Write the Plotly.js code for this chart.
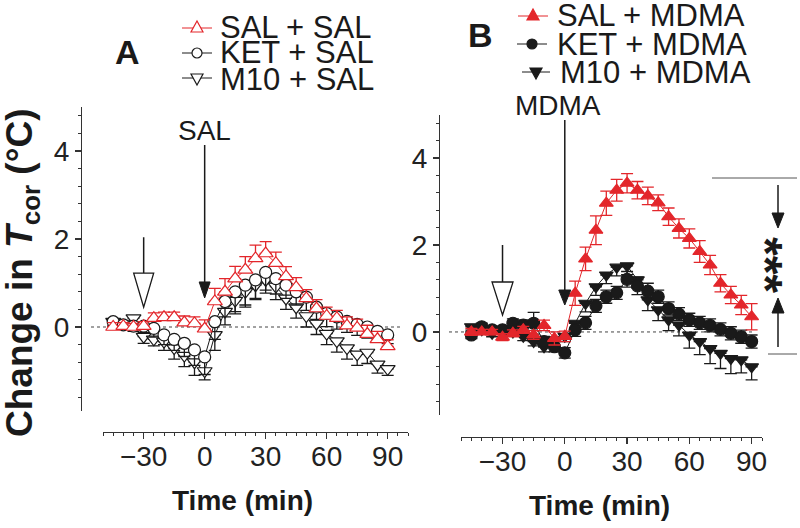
<!DOCTYPE html>
<html>
<head>
<meta charset="utf-8">
<script src="https://cdn.plot.ly/plotly-3.0.1.min.js"></script>
<style>
  html, body { margin: 0; padding: 0; background: #fff; }
  #chart { width: 800px; height: 528px; }
</style>
</head>
<body>
<div id="chart"></div>
<script>
// time points (min), same for both panels
var time = [-45, -40, -35, -30, -25, -20, -15, -10, -5, 0, 5, 10, 15, 20, 25, 30, 35, 40, 45, 50, 55, 60, 65, 70, 75, 80, 85, 90];

// panel A : pretreatment + SAL
var salSal    = [0.0, 0.02, 0.0, 0.02, 0.2, 0.22, 0.22, 0.1, 0.08, -0.04, 0.58, 0.8, 1.1, 1.3, 1.56, 1.67, 1.45, 1.15, 0.9, 0.65, 0.42, 0.25, 0.2, 0.03, -0.02, -0.16, -0.28, -0.44];
var salSalErr = [0.1, 0.08, 0.08, 0.1, 0.12, 0.12, 0.12, 0.15, 0.15, 0.2, 0.3, 0.3, 0.28, 0.3, 0.3, 0.27, 0.25, 0.22, 0.22, 0.2, 0.2, 0.2, 0.18, 0.2, 0.2, 0.2, 0.18, 0.15];
var ketSal    = [0.12, 0.05, 0.02, 0.02, -0.03, -0.18, -0.28, -0.37, -0.52, -0.68, 0.12, 0.58, 0.8, 0.95, 1.07, 1.24, 1.1, 0.95, 0.8, 0.68, 0.45, 0.31, 0.23, 0.13, 0.06, 0.0, -0.1, -0.18];
var ketSalErr = [0.1, 0.1, 0.12, 0.15, 0.2, 0.22, 0.25, 0.3, 0.35, 0.4, 0.4, 0.35, 0.45, 0.5, 0.45, 0.4, 0.35, 0.3, 0.3, 0.3, 0.28, 0.3, 0.28, 0.25, 0.25, 0.25, 0.22, 0.2];
var m10Sal    = [0.12, 0.08, 0.2, -0.22, -0.28, -0.33, -0.48, -0.65, -0.8, -1.0, -0.18, 0.35, 0.6, 0.8, 0.95, 1.07, 0.92, 0.65, 0.45, 0.25, 0.08, -0.15, -0.32, -0.48, -0.62, -0.58, -0.85, -0.95];
var m10SalErr = [0.1, 0.1, 0.1, 0.15, 0.15, 0.2, 0.25, 0.25, 0.3, 0.2, 0.35, 0.3, 0.3, 0.3, 0.3, 0.3, 0.3, 0.25, 0.25, 0.25, 0.25, 0.25, 0.25, 0.25, 0.25, 0.25, 0.2, 0.15];

// panel B : pretreatment + MDMA
var salMdma    = [0.0, 0.0, 0.0, -0.12, -0.03, 0.05, -0.07, 0.15, -0.15, -0.1, 0.89, 1.68, 2.34, 2.96, 3.26, 3.42, 3.26, 3.13, 2.97, 2.65, 2.38, 2.15, 1.85, 1.54, 1.12, 0.85, 0.62, 0.35];
var salMdmaErr = [0.08, 0.06, 0.06, 0.08, 0.08, 0.08, 0.1, 0.12, 0.15, 0.12, 0.28, 0.27, 0.33, 0.28, 0.25, 0.22, 0.2, 0.2, 0.18, 0.2, 0.22, 0.22, 0.25, 0.22, 0.2, 0.2, 0.22, 0.3];
var ketMdma    = [-0.07, 0.12, 0.05, 0.05, 0.2, 0.16, 0.2, -0.22, -0.34, -0.48, 0.05, 0.21, 0.6, 0.81, 0.9, 1.21, 1.06, 0.94, 0.81, 0.54, 0.41, 0.28, 0.21, 0.15, 0.06, -0.03, -0.11, -0.22];
var ketMdmaErr = [0.08, 0.08, 0.08, 0.08, 0.1, 0.12, 0.25, 0.12, 0.12, 0.12, 0.15, 0.15, 0.15, 0.15, 0.15, 0.18, 0.2, 0.18, 0.15, 0.15, 0.15, 0.15, 0.15, 0.15, 0.15, 0.15, 0.15, 0.15];
var m10Mdma    = [0.12, 0.05, -0.03, 0.05, 0.0, -0.1, -0.22, -0.34, -0.18, -0.1, 0.2, 0.66, 1.04, 1.31, 1.49, 1.52, 1.2, 0.74, 0.51, 0.28, 0.16, -0.07, -0.22, -0.38, -0.49, -0.61, -0.64, -0.8];
var m10MdmaErr = [0.08, 0.08, 0.08, 0.08, 0.08, 0.1, 0.1, 0.12, 0.12, 0.12, 0.15, 0.2, 0.2, 0.2, 0.2, 0.2, 0.2, 0.25, 0.25, 0.25, 0.25, 0.3, 0.3, 0.35, 0.35, 0.35, 0.3, 0.3];

var namesA = ['SAL + SAL', 'KET + SAL', 'M10 + SAL'];
var namesB = ['SAL + MDMA', 'KET + MDMA', 'M10 + MDMA'];

var RED = '#e3262b';
var BLK = '#1a1a1a';
var FONT = 'Liberation Sans, Arial, sans-serif';

// pixel -> paper
function px(x) { return x / 800; }
function py(y) { return 1 - y / 528; }

function serie(x, y, err, dir, xa, ya, sym, col, open, size) {
  var e = {type: 'data', array: err, color: col, thickness: 1.3, width: 6};
  if (dir == 'up') { e.symmetric = false; e.arrayminus = err.map(function () { return 0; }); }
  if (dir == 'down') { e.symmetric = false; e.arrayminus = err; e.array = err.map(function () { return 0; }); }
  return {
    x: x, y: y, xaxis: xa, yaxis: ya,
    mode: 'lines+markers', type: 'scatter',
    line: {color: col, width: 1},
    marker: {symbol: sym, size: size || 12, color: open ? 'white' : col, line: {color: col, width: 1.2}},
    error_y: e, cliponaxis: false, hoverinfo: 'skip'
  };
}

var data = [
  serie(time, m10Sal, m10SalErr, 'down', 'x', 'y', 'triangle-down', BLK, true, 13),
  serie(time, ketSal, ketSalErr, 'down', 'x', 'y', 'circle', BLK, true, 12),
  serie(time, salSal, salSalErr, 'up', 'x', 'y', 'triangle-up', RED, true, 13),
  serie(time, m10Mdma, m10MdmaErr, 'down', 'x2', 'y2', 'triangle-down', BLK, false, 12),
  serie(time, ketMdma, ketMdmaErr, 'both', 'x2', 'y2', 'circle', BLK, false, 12),
  serie(time, salMdma, salMdmaErr, 'both', 'x2', 'y2', 'triangle-up', RED, false, 12)
];

function xax(dom, rng, pos) {
  return {
    domain: dom, range: rng, anchor: 'free', position: pos,
    showline: true, linecolor: '#333', linewidth: 1.3, mirror: false,
    ticks: 'outside', ticklen: 6, tickwidth: 1.3, tickcolor: '#333',
    tick0: 0, dtick: 30, showgrid: false, zeroline: false, ticklabelstandoff: -7,
    minor: {dtick: 5, ticks: 'outside', ticklen: 3, tickwidth: 1, tickcolor: '#333', showgrid: false},
    tickfont: {family: FONT, size: 28, color: '#222'}
  };
}
function yax(dom, pos) {
  return {
    domain: dom, range: [-1.9, 5], anchor: 'free', position: pos,
    showline: true, linecolor: '#333', linewidth: 1.3,
    ticks: 'outside', ticklen: 6, tickwidth: 1.3, tickcolor: '#333',
    tick0: 0, dtick: 2, showgrid: false, zeroline: false,
    minor: {dtick: 0.4, ticks: 'outside', ticklen: 3, tickwidth: 1, tickcolor: '#333', showgrid: false},
    tickfont: {family: FONT, size: 28, color: '#222'}
  };
}

// arrows: tip anchored at a data / paper point, sizes in pixels
function arrow(xref, yref, xa, ya, len, headH, headW, hollow, dir) {
  var s = dir == 'up' ? -1 : 1;
  var base = {xref: xref, yref: yref, xsizemode: 'pixel', ysizemode: 'pixel', xanchor: xa, yanchor: ya};
  return [
    Object.assign({type: 'line', x0: 0, x1: 0, y0: s * headH, y1: s * len, line: {color: BLK, width: 1.5}}, base),
    Object.assign({type: 'path', path: 'M' + (-headW / 2) + ',' + (s * headH) + ' L' + (headW / 2) + ',' + (s * headH) + ' L0,0 Z',
      fillcolor: hollow ? 'white' : BLK, line: {color: BLK, width: hollow ? 1.3 : 1}}, base)
  ];
}

// legend key: short line + marker
function legendKey(x0, x1, y, sym, col, open) {
  var out = [{type: 'line', xref: 'paper', yref: 'paper', x0: px(x0), x1: px(x1), y0: py(y), y1: py(y), line: {color: col, width: 1}}];
  var base = {xref: 'paper', yref: 'paper', xsizemode: 'pixel', ysizemode: 'pixel', xanchor: px((x0 + x1) / 2), yanchor: py(y),
    fillcolor: open ? 'white' : col, line: {color: col, width: 1.2}};
  if (sym == 'circle') out.push(Object.assign({type: 'circle', x0: -5, x1: 5, y0: -5, y1: 5}, base));
  if (sym == 'up') out.push(Object.assign({type: 'path', path: 'M-6,-4 L6,-4 L0,7 Z'}, base));
  if (sym == 'down') out.push(Object.assign({type: 'path', path: 'M-6,4 L6,4 L0,-7 Z'}, base));
  return out;
}

var shapes = [
  {type: 'line', xref: 'paper', yref: 'y', x0: px(91), x1: px(403), y0: 0, y1: 0, line: {color: '#444', width: 1, dash: 'dot'}, layer: 'below'},
  {type: 'line', xref: 'paper', yref: 'y2', x0: px(449), x1: px(753), y0: 0, y1: 0, line: {color: '#444', width: 1, dash: 'dot'}, layer: 'below'},
  // significance bracket
  {type: 'line', xref: 'paper', yref: 'paper', x0: px(712), x1: px(797), y0: py(178), y1: py(178), line: {color: '#555', width: 1}},
  {type: 'line', xref: 'paper', yref: 'paper', x0: px(768), x1: px(797), y0: py(354), y1: py(354), line: {color: '#555', width: 1}}
];
shapes = shapes
  .concat(arrow('x', 'y', -30, 0.45, 70, 34, 20, true))
  .concat(arrow('x', 'y', 0, 0.66, 153, 16, 11, false))
  .concat(arrow('x2', 'y2', -30, 0.39, 70, 33, 21, true))
  .concat(arrow('x2', 'y2', 0, 0.62, 185, 15, 12, false))
  .concat(arrow('paper', 'paper', px(778), py(228), 43, 15, 12, false))
  .concat(arrow('paper', 'paper', px(778), py(298), 49, 15, 12, false, 'up'))
  .concat(legendKey(182, 212, 28, 'up', RED, true))
  .concat(legendKey(182, 212, 53, 'circle', BLK, true))
  .concat(legendKey(182, 212, 78, 'down', BLK, true))
  .concat(legendKey(518, 548, 16, 'up', RED, false))
  .concat(legendKey(517, 547, 44, 'circle', BLK, false))
  .concat(legendKey(522, 550, 72, 'down', BLK, false));

function txt(text, x, y, size, bold, xanchor, extra) {
  return Object.assign({text: text, xref: 'paper', yref: 'paper', x: px(x), y: py(y), showarrow: false,
    xanchor: xanchor || 'center', yanchor: 'middle',
    font: {family: FONT, size: size, color: '#1a1a1a', weight: bold ? 'bold' : 'normal'}}, extra || {});
}

var annotations = [
  txt('A', 127, 52, 34, true),
  txt('B', 480, 35, 34, true),
  txt(namesA[0], 218, 28, 31, false, 'left'),
  txt(namesA[1], 218, 53, 31, false, 'left'),
  txt(namesA[2], 218, 79, 31, false, 'left'),
  txt(namesB[0], 555, 16, 31, false, 'left'),
  txt(namesB[1], 555, 44, 31, false, 'left'),
  txt(namesB[2], 558, 72, 31, false, 'left'),
  txt('SAL', 204, 130, 28, false),
  txt('MDMA', 558, 105, 28, false),
  txt('Time (min)', 242, 500, 28, true),
  txt('Time (min)', 599, 505, 28, true),
  txt('Change in <i>T</i><sub>cor</sub> (°C)', 22, 273, 37, true, 'center', {textangle: -90}),
  txt('***', 766, 265, 48, true, 'center', {textangle: 90})
];

var layout = {
  width: 800, height: 528,
  margin: {l: 0, r: 0, t: 0, b: 0},
  paper_bgcolor: 'white', plot_bgcolor: 'white',
  showlegend: false,
  font: {family: FONT, color: '#1a1a1a'},
  xaxis: xax([px(103), px(408)], [-50, 100], py(432)),
  yaxis: yax([py(410.6), py(107)], px(81)),
  xaxis2: xax([px(461), px(762)], [-50, 95], py(437)),
  yaxis2: yax([py(414.6), py(114.5)], px(439)),
  shapes: shapes,
  annotations: annotations
};

Plotly.newPlot('chart', data, layout, {displayModeBar: false, staticPlot: true});
</script>
</body>
</html>
